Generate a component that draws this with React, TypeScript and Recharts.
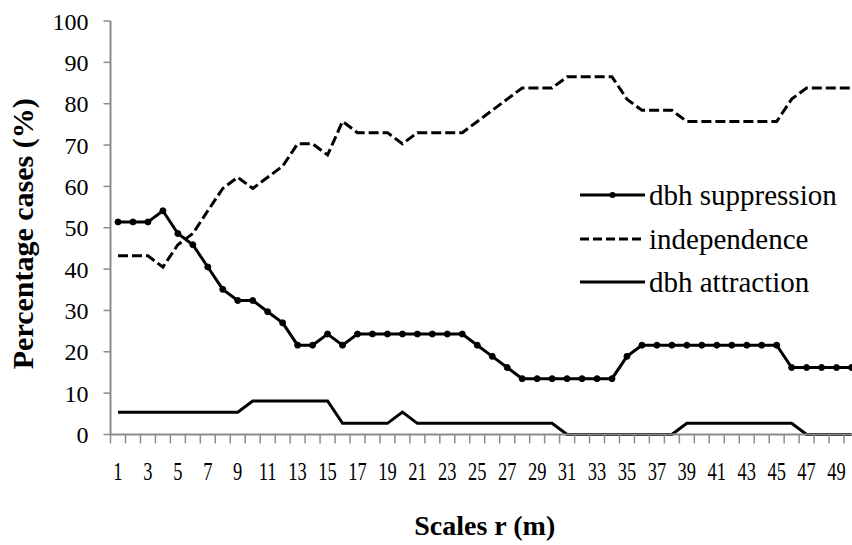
import React from "react";
import { LineChart, Line, XAxis, YAxis, Legend } from "recharts";

// scale r (m) and % of cases per class
const scales = [
  1, 2, 3, 4, 5, 6, 7, 8, 9, 10, 11, 12, 13, 14, 15, 16, 17, 18, 19, 20, 21, 22, 23, 24, 25,
  26, 27, 28, 29, 30, 31, 32, 33, 34, 35, 36, 37, 38, 39, 40, 41, 42, 43, 44, 45, 46, 47, 48, 49, 50,
];
const suppression = [
  51.4, 51.4, 51.4, 54.1, 48.6, 45.9, 40.5, 35.1, 32.4, 32.4, 29.7, 27.0, 21.6, 21.6, 24.3, 21.6, 24.3,
  24.3, 24.3, 24.3, 24.3, 24.3, 24.3, 24.3, 21.6, 18.9, 16.2, 13.5, 13.5, 13.5, 13.5, 13.5, 13.5, 13.5,
  18.9, 21.6, 21.6, 21.6, 21.6, 21.6, 21.6, 21.6, 21.6, 21.6, 21.6, 16.2, 16.2, 16.2, 16.2, 16.2,
];
const independence = [
  43.2, 43.2, 43.2, 40.5, 45.9, 48.6, 54.1, 59.5, 62.2, 59.5, 62.2, 64.9, 70.3, 70.3, 67.6, 75.7, 73.0,
  73.0, 73.0, 70.3, 73.0, 73.0, 73.0, 73.0, 75.7, 78.4, 81.1, 83.8, 83.8, 83.8, 86.5, 86.5, 86.5, 86.5,
  81.1, 78.4, 78.4, 78.4, 75.7, 75.7, 75.7, 75.7, 75.7, 75.7, 75.7, 81.1, 83.8, 83.8, 83.8, 83.8,
];
const attraction = [
  5.4, 5.4, 5.4, 5.4, 5.4, 5.4, 5.4, 5.4, 5.4, 8.1, 8.1, 8.1, 8.1, 8.1, 8.1, 2.7, 2.7, 2.7, 2.7, 5.4,
  2.7, 2.7, 2.7, 2.7, 2.7, 2.7, 2.7, 2.7, 2.7, 2.7, 0, 0, 0, 0, 0, 0, 0, 0, 2.7, 2.7, 2.7, 2.7, 2.7,
  2.7, 2.7, 2.7, 0, 0, 0, 0,
];
const yTicks = [0, 10, 20, 30, 40, 50, 60, 70, 80, 90, 100];
const xLabels = [1, 3, 5, 7, 9, 11, 13, 15, 17, 19, 21, 23, 25, 27, 29, 31, 33, 35, 37, 39, 41, 43, 45, 47, 49];

const seriesNames = ["dbh suppression", "independence", "dbh attraction"];

const data = scales.map((r, i) => ({
  r,
  suppression: suppression[i],
  independence: independence[i],
  attraction: attraction[i],
}));

// tick marks sit between categories, labels on odd ones
const xBounds = scales.map((r) => r - 0.5).concat(scales[scales.length - 1] + 0.5);
const xTicks = [...xBounds, ...xLabels].sort((a, b) => a - b);

const AXIS = "#8c8c8c";
const FONT = "Liberation Serif, Times New Roman, serif";
const X_TICK_SIZE = 9;
const X_TICK_MARGIN = 19;
const DASH = "10 4";

function XTick(props: any) {
  const { x, y, payload } = props;
  const v = payload.value;
  if (!Number.isInteger(v)) {
    const axisY = y - X_TICK_MARGIN - X_TICK_SIZE;
    return <line x1={x} x2={x} y1={axisY} y2={axisY + X_TICK_SIZE} stroke={AXIS} strokeWidth={1.5} />;
  }
  return (
    <text
      x={x}
      y={y}
      dy="0.71em"
      textAnchor="middle"
      fontFamily={FONT}
      fontSize={25}
      fill="#000"
      transform={`translate(${x},0) scale(0.74,1) translate(${-x},0)`}
    >
      {v}
    </text>
  );
}

function YTick(props: any) {
  const { x, y, payload } = props;
  return (
    <text x={x} y={y} dy="0.355em" textAnchor="end" fontFamily={FONT} fontSize={24} fill="#000">
      {payload.value}
    </text>
  );
}

function XTitle(props: any) {
  const vb = props.viewBox;
  return (
    <text x={vb.x + vb.width / 2} y={vb.y + 100} textAnchor="middle" fontFamily={FONT} fontWeight="bold" fontSize={28} fill="#000">
      Scales r (m)
    </text>
  );
}

function YTitle(props: any) {
  const vb = props.viewBox;
  const cx = 33;
  const cy = vb.y + vb.height / 2 + 6;
  return (
    <text x={cx} y={cy} textAnchor="middle" transform={`rotate(-90, ${cx}, ${cy})`} fontFamily={FONT} fontWeight="bold" fontSize={30} fill="#000">
      Percentage cases (%)
    </text>
  );
}

function LegendBox() {
  const rows = [25, 69, 112];
  return (
    <svg width={275} height={135}>
      {rows.map((ly, i) => (
        <g key={seriesNames[i]}>
          <line x1={5} x2={70} y1={ly} y2={ly} stroke="#000" strokeWidth={3} strokeDasharray={i === 1 ? "9 4" : undefined} />
          {i === 0 && <circle cx={37.5} cy={ly} r={3} fill="#000" />}
          <text x={74} y={ly + 10} fontFamily={FONT} fontSize={29} fill="#000">
            {seriesNames[i]}
          </text>
        </g>
      ))}
    </svg>
  );
}

export default function App() {
  return (
    <div style={{ position: "absolute", left: 0, top: 0, width: 852, height: 545, overflow: "hidden", background: "#fff" }}>
      <LineChart width={870} height={545} data={data} margin={{ top: 21, right: 11, bottom: 50.5, left: 10.5 }}>
        <XAxis
          dataKey="r"
          type="number"
          domain={[0.5, 50.5]}
          ticks={xTicks}
          interval={0}
          height={60}
          tickLine={false}
          tickSize={X_TICK_SIZE}
          tickMargin={X_TICK_MARGIN}
          tick={<XTick />}
          axisLine={{ stroke: AXIS, strokeWidth: 2 }}
          label={<XTitle />}
        />
        <YAxis
          type="number"
          domain={[0, 100]}
          ticks={yTicks}
          interval={0}
          width={100}
          tickSize={7}
          tickMargin={15}
          tickLine={{ stroke: AXIS, strokeWidth: 1.5 }}
          axisLine={{ stroke: AXIS, strokeWidth: 2 }}
          tick={<YTick />}
          label={<YTitle />}
        />
        <Legend
          layout="vertical"
          align="center"
          verticalAlign="middle"
          content={() => <LegendBox />}
          wrapperStyle={{ left: 575, top: 170, width: 275, height: 135 }}
        />
        <Line
          dataKey="attraction"
          name={seriesNames[2]}
          stroke="#000"
          strokeWidth={3}
          dot={false}
          isAnimationActive={false}
        />
        <Line
          dataKey="independence"
          name={seriesNames[1]}
          stroke="#000"
          strokeWidth={3}
          strokeDasharray={DASH}
          dot={false}
          isAnimationActive={false}
        />
        <Line
          dataKey="suppression"
          name={seriesNames[0]}
          stroke="#000"
          strokeWidth={3}
          dot={{ r: 3, fill: "#000", stroke: "#000", strokeWidth: 1 }}
          isAnimationActive={false}
        />
      </LineChart>
    </div>
  );
}
